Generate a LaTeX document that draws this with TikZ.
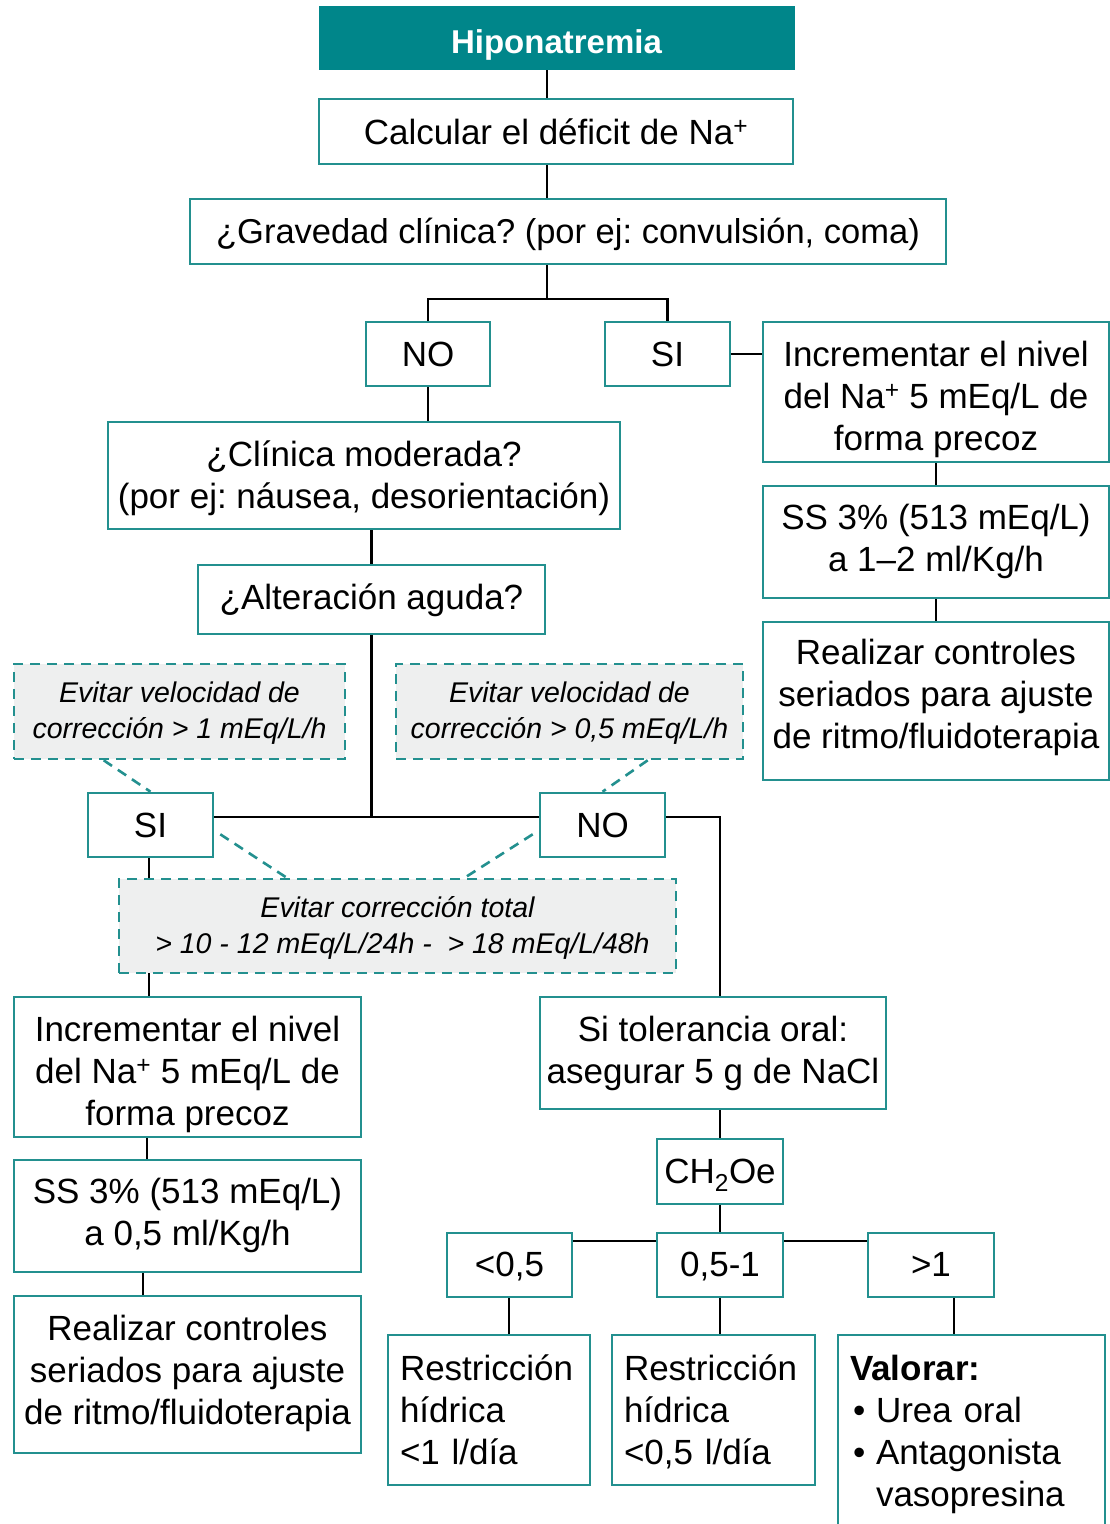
\documentclass[tikz,border=0pt]{standalone}
\usepackage{fontspec}
\setmainfont{Liberation Sans}
\frenchspacing
\usetikzlibrary{calc}
\definecolor{tealb}{HTML}{23908F}
\definecolor{tealh}{HTML}{00868A}
\definecolor{grayf}{HTML}{EEEFEF}
\pgfdeclarelayer{back}
\pgfdeclarelayer{conns}
\pgfsetlayers{back,conns,main}
\newcommand\tsb[1]{\pgfmathsetlengthmacro\tsH{38+2*(#1)}\rule{0pt}{\tsH}}
\newcommand\tsbi[1]{\pgfmathsetlengthmacro\tsH{35+2*(#1)}\rule{0pt}{\tsH}}
\newcommand\tse{\rule[-16pt]{0pt}{0pt}}
\newcommand\tsbs[1]{\pgfmathsetlengthmacro\tsH{30+2*(#1)}\rule{0pt}{\tsH}}
\newcommand\tses{\rule[-8pt]{0pt}{0pt}}
\tikzset{
  box/.style={draw=tealb, line width=2.6pt, fill=white, inner sep=0pt, align=center,
    font=\fontsize{35}{42}\selectfont},
  hdr/.style={fill=tealh, draw=tealh, line width=1pt, inner sep=0pt, text=white,
    font=\bfseries\fontsize{33}{40}\selectfont},
  dbox/.style={draw=tealb, line width=2.6pt, dash pattern=on 10pt off 7pt, fill=grayf,
    inner sep=0pt, align=center, font=\itshape\fontsize{28.5}{36}\selectfont},
  conn/.style={line width=2.6pt, black},
  dconn/.style={line width=2.6pt, tealb, dash pattern=on 10pt off 7pt},
  ts/.style={execute at begin node={\tsb{#1}}, execute at end node={\tse}},
}
\begin{document}
\begin{tikzpicture}[x=1pt, y=-1pt]
\clip (0,0) rectangle (1110,1524);
\begin{pgfonlayer}{back}
\fill[white] (0,0) rectangle (1110,1524);
\end{pgfonlayer}
\coordinate (sx) at (547,0);
\coordinate (split) at (547,299);
\coordinate (jn) at (371.5,817);
\coordinate (tx) at (720,817);
\coordinate (hy) at (0,1241);
\coordinate (vx) at (954,0);

\node[hdr, ts=4.5, minimum width=475, minimum height=57] (hipo) at (556.5,37.5) {Hiponatremia};
\node[box, ts=1.5, minimum width=474, minimum height=65] (calc) at (556,131.5) {Calcular el déficit de Na\textsuperscript{+}};
\node[box, ts=0.5, minimum width=756, minimum height=65, font=\fontsize{34.5}{42}\selectfont] (grav) at (568,231.5) {¿Gravedad clínica? (por ej: convulsión, coma)};
\node[box, ts=1, minimum width=124, minimum height=64] (no1) at (428,354) {NO};
\node[box, ts=1, minimum width=125, minimum height=64] (si1) at (667.5,354) {SI};
\node[box, minimum width=346, minimum height=140] (incR) at (936,392) {\tsbs{5}Incrementar el nivel\\del Na\textsuperscript{+} 5 mEq/L de\\forma precoz\tses};
\node[box, minimum width=346, minimum height=112] (ssR) at (936,542) {\tsb{-3}SS 3\% (513 mEq/L)\\a 1–2 ml/Kg/h\tse};
\node[box, minimum width=346, minimum height=158] (realR) at (936,701) {\tsb{-6}Realizar controles\\seriados para ajuste\\de ritmo/fluidoterapia\tse};
\node[box, minimum width=512, minimum height=107] (clin) at (364,475.5) {\tsb{0.5}¿Clínica moderada?\\(por ej: náusea, desorientación)\tse};
\node[box, ts=-1.5, minimum width=347, minimum height=69] (alt) at (371.5,599.5) {¿Alteración aguda?};
\node[box, ts=1, minimum width=125, minimum height=64] (si2) at (150.5,825) {SI};
\node[box, ts=1, minimum width=125, minimum height=64] (no2) at (602.5,825) {NO};

\node[dbox, minimum width=331, minimum height=95] (dl) at (179.5,711.5) {\tsbi{-0.5}Evitar velocidad de\\corrección > 1 mEq/L/h\tse};
\node[dbox, minimum width=347, minimum height=95] (dr) at (569.5,711.5) {\tsbi{-0.5}Evitar velocidad de\\corrección > 0,5 mEq/L/h\tse};
\node[dbox, minimum width=557, minimum height=94] (db) at (397.5,926) {\tsbi{-0.5}Evitar corrección total\\\hspace*{10pt}> 10 - 12 mEq/L/24h - \ > 18 mEq/L/48h\tse};

\node[box, minimum width=347, minimum height=140] (incL) at (187.5,1067) {\tsbs{5}Incrementar el nivel\\del Na\textsuperscript{+} 5 mEq/L de\\forma precoz\tses};
\node[box, minimum width=347, minimum height=112] (ssL) at (187.5,1216) {\tsb{-2.5}SS 3\% (513 mEq/L)\\a 0,5 ml/Kg/h\tse};
\node[box, minimum width=347, minimum height=157] (realL) at (187.5,1374.5) {\tsb{-3.5}Realizar controles\\seriados para ajuste\\de ritmo/fluidoterapia\tse};

\node[box, minimum width=346, minimum height=112] (tol) at (713,1053) {\tsb{-2}Si tolerancia oral:\\asegurar 5 g de NaCl\tse};
\node[box, ts=0.5, minimum width=126, minimum height=65] (ch) at (720,1171.5) {CH\textsubscript{2}Oe};
\node[box, ts=0, minimum width=125, minimum height=64] (lt) at (509.5,1265) {<0,5};
\node[box, ts=0, minimum width=126, minimum height=64] (mid) at (720,1265) {0,5-1};
\node[box, ts=0, minimum width=126, minimum height=64] (gt) at (931,1265) {>1};
\node[box, ts=1, minimum width=202, minimum height=150, text width=178, align=left] (r1) at (489,1410) {Restricción\\hídrica\\<1 l/día};
\node[box, ts=1, minimum width=203, minimum height=150, text width=179, align=left] (r2) at (713.5,1410) {Restricción\\hídrica\\<0,5 l/día};
\node[box, ts=-3, minimum width=267, minimum height=200, text width=243, align=left] (val) at (971.5,1435) {\textbf{Valorar:}\\\makebox[26pt][l]{\hspace*{3pt}\textbullet}Urea oral\\\makebox[26pt][l]{\hspace*{3pt}\textbullet}Antagonista\\\hspace*{26pt}vasopresina};

\draw[dconn] ($(dl.south west)+(91,0)$) -- (si2.north);
\draw[dconn] ($(dr.south west)+(253,0)$) -- (no2.north);
\draw[dconn] ($(si2.south east)+(6,-24)$) -- ($(db.north west)+(169,0)$);
\draw[dconn] ($(no2.south west)+(-6,-24)$) -- ($(db.north west)+(347,0)$);

\begin{pgfonlayer}{conns}
\draw[conn] (hipo.south -| sx) -- (calc.north -| sx);
\draw[conn] (calc.south -| sx) -- (grav.north -| sx);
\draw[conn] (grav.south -| split) -- (split);
\draw[conn] (no1.north) |- (split);
\draw[conn] (si1.north) |- (split);
\draw[conn] (si1.east) -- (si1.east -| incR.west);
\draw[conn] (incR.south) -- (ssR.north);
\draw[conn] (ssR.south) -- (realR.north);
\draw[conn] (no1.south) -- (no1.south |- clin.north);
\draw[conn] (alt.north |- clin.south) -- (alt.north);
\draw[conn] (alt.south) -- (jn);
\draw[conn] (si2.east |- jn) -- (no2.west |- jn);
\draw[conn] (no2.east |- tx) -| (tx |- tol.north);
\draw[conn] (si2.south -| 149,0) -- (incL.north -| 149,0);
\draw[conn] (incL.south -| 147,0) -- (ssL.north -| 147,0);
\draw[conn] (ssL.south -| 143,0) -- (realL.north -| 143,0);
\draw[conn] (tol.south -| ch.north) -- (ch.north);
\draw[conn] (ch.south) -- (mid.north);
\draw[conn] (lt.east |- hy) -- (mid.west |- hy);
\draw[conn] (mid.east |- hy) -- (gt.west |- hy);
\draw[conn] (lt.south -| 509,0) -- (r1.north -| 509,0);
\draw[conn] (mid.south) -- (mid.south |- r2.north);
\draw[conn] (gt.south -| vx) -- (val.north -| vx);
\end{pgfonlayer}
\end{tikzpicture}
\end{document}
